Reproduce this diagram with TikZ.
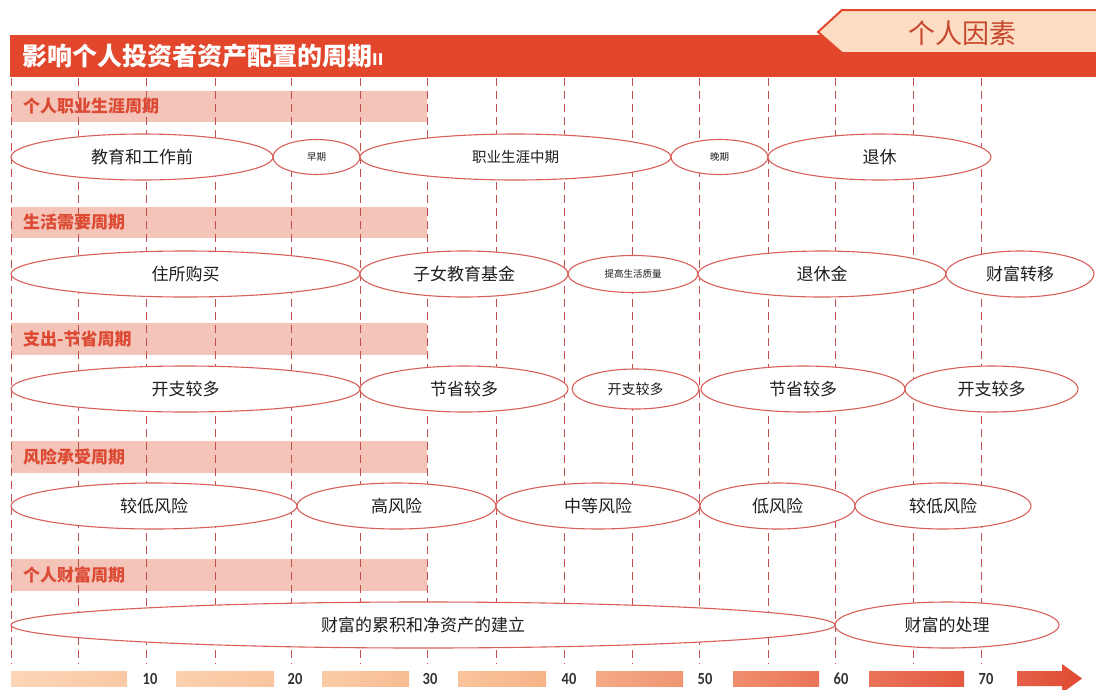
\documentclass[tikz,border=0pt]{standalone}
\usepackage{fontspec}
\setmainfont{Noto Sans CJK SC}
\newfontfamily\numfont{Carlito}
\usetikzlibrary{shapes.geometric}
\definecolor{hdr}{HTML}{E2472C}
\definecolor{tabfill}{HTML}{FDDCC4}
\definecolor{tabtext}{HTML}{C5482F}
\definecolor{pinkbar}{HTML}{F4C4B9}
\definecolor{labred}{HTML}{DD4A33}
\definecolor{dashc}{HTML}{C0504D}
\definecolor{ellc}{HTML}{D8605A}
\definecolor{txt}{HTML}{1E1E1E}
\definecolor{numc}{HTML}{333333}
\tikzset{
  ell/.style={ellipse, draw=ellc, fill=white, line width=1.1pt, inner sep=0pt,
    font=\fontsize{17}{17}\selectfont, text=txt, minimum height=46},
  smallell/.style={ell, minimum height=35, font=\fontsize{9.5}{9.5}\selectfont},
  secbar/.style={fill=pinkbar, draw=none},
  seclab/.style={anchor=west, font=\fontsize{17}{17}\selectfont\bfseries, text=labred, inner sep=0pt},
  vline/.style={draw=dashc, line width=0.9pt, dash pattern=on 8pt off 5pt},
  axnum/.style={font=\numfont\bfseries\fontsize{17}{17}\selectfont, text=numc, inner sep=0pt, xscale=0.85}
}
\begin{document}
\begin{tikzpicture}[x=1pt,y=-1pt]
\useasboundingbox (0,0) rectangle (1096,689);
\fill[white] (0,0) rectangle (1096,689);
% header
\fill[hdr] (10,35) rectangle (1096,77);
\filldraw[fill=tabfill, draw=hdr, line width=2pt] (818,32) -- (842,10) -- (1097,10) -- (1097,53) -- (842,53) -- cycle;
\node[font=\fontsize{27}{27}\selectfont, text=tabtext, inner sep=0pt] (tab) at (962,33) {个人因素};
\node[anchor=west, inner sep=0pt, text=white, font=\fontsize{25}{25}\selectfont\bfseries] (title) at (22,56) {影响个人投资者资产配置的周期{\fontsize{16}{16}\selectfont II}};
% section bars
\fill[secbar] (11,91) rectangle (427,122);
\fill[secbar] (11,207) rectangle (427,238);
\fill[secbar] (11,323) rectangle (427,355);
\fill[secbar] (11,441) rectangle (427,473);
\fill[secbar] (11,559) rectangle (427,591);
\node[seclab] (s1) at (23,106.5) {个人职业生涯周期};
\node[seclab] (s2) at (23,222.5) {生活需要周期};
\node[seclab] (s3) at (23,339) {支出-节省周期};
\node[seclab] (s4) at (23,457) {风险承受周期};
\node[seclab] (s5) at (23,575) {个人财富周期};
% dashed lines
\foreach \x in {11,78,146,215,291,360,427,496,564,632,699,768,835,913,981}
  \draw[vline] (\x,78) -- (\x,664);
% row 1
\node[ell, minimum width=262] (a1) at (142,157) {教育和工作前};
\node[smallell, minimum width=87] (a2) at (316.5,157) {早期};
\node[ell, minimum width=311, font=\fontsize{14.5}{14.5}\selectfont] (a3) at (515.5,157) {职业生涯中期};
\node[smallell, minimum width=97] (a4) at (719.5,157) {晚期};
\node[ell, minimum width=223] (a5) at (879.5,157) {退休};
% row 2
\node[ell, minimum width=349] (b1) at (185.5,274) {住所购买};
\node[ell, minimum width=208] (b2) at (464,274) {子女教育基金};
\node[smallell, minimum width=130, minimum height=37] (b3) at (633,274) {提高生活质量};
\node[ell, minimum width=248] (b4) at (822,274) {退休金};
\node[ell, minimum width=148] (b5) at (1020,274) {财富转移};
% row 3
\node[ell, minimum width=349] (c1) at (185.5,389) {开支较多};
\node[ell, minimum width=208] (c2) at (464,389) {节省较多};
\node[ell, minimum width=127, minimum height=40, font=\fontsize{14}{14}\selectfont] (c3) at (635.5,389) {开支较多};
\node[ell, minimum width=204] (c4) at (803,389) {节省较多};
\node[ell, minimum width=173] (c5) at (991.5,389) {开支较多};
% row 4
\node[ell, minimum width=286] (d1) at (154,506) {较低风险};
\node[ell, minimum width=199] (d2) at (396.5,506) {高风险};
\node[ell, minimum width=204] (d3) at (598,506) {中等风险};
\node[ell, minimum width=155] (d4) at (777.5,506) {低风险};
\node[ell, minimum width=176] (d5) at (943,506) {较低风险};
% row 5
\node[ell, minimum width=824] (e1) at (423,625) {财富的累积和净资产的建立};
\node[ell, minimum width=224] (e2) at (947,625) {财富的处理};
% axis
\shade[left color={rgb,255:red,252;green,214;blue,184}, right color={rgb,255:red,249;green,200;blue,164}] (11,671) rectangle (127,686);
\shade[left color={rgb,255:red,251;green,208;blue,174}, right color={rgb,255:red,249;green,196;blue,158}] (176,671) rectangle (274,686);
\shade[left color={rgb,255:red,250;green,203;blue,166}, right color={rgb,255:red,248;green,189;blue,147}] (322,671) rectangle (409,686);
\shade[left color={rgb,255:red,249;green,196;blue,156}, right color={rgb,255:red,247;green,180;blue,136}] (458,671) rectangle (546,686);
\shade[left color={rgb,255:red,244;green,170;blue,132}, right color={rgb,255:red,240;green,149;blue,115}] (596,671) rectangle (683,686);
\shade[left color={rgb,255:red,239;green,142;blue,110}, right color={rgb,255:red,234;green,116;blue,89}] (733,671) rectangle (819,686);
\shade[left color={rgb,255:red,233;green,115;blue,88}, right color={rgb,255:red,227;green,90;blue,66}] (869,671) rectangle (964,686);
\shade[left color={rgb,255:red,229;green,96;blue,74}, right color={rgb,255:red,223;green,74;blue,48}] (1017,671) -- (1062,671) -- (1062,664) -- (1082,678.5) -- (1062,693) -- (1062,686) -- (1017,686) -- cycle;
\node[axnum] (n10) at (150,678.5) {10};
\node[axnum] (n20) at (295,678.5) {20};
\node[axnum] (n30) at (430,678.5) {30};
\node[axnum] (n40) at (569,678.5) {40};
\node[axnum] (n50) at (705,678.5) {50};
\node[axnum] (n60) at (841,678.5) {60};
\node[axnum] (n70) at (986,678.5) {70};
\end{tikzpicture}
\end{document}
